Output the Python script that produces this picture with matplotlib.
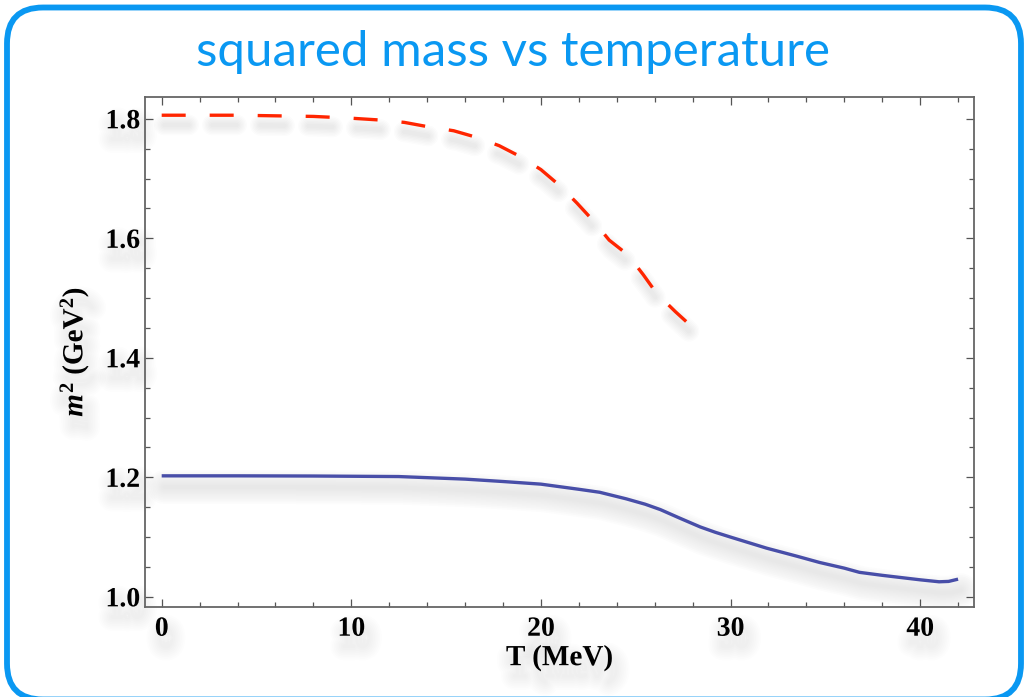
import matplotlib
matplotlib.use("Agg")
import matplotlib.pyplot as plt
import matplotlib.patheffects as pe
from matplotlib.patches import FancyBboxPatch
from matplotlib.ticker import MultipleLocator

# red dashed curve (T in MeV, m^2 in GeV^2)
t_red = [0, 2, 4, 6, 8, 10, 11.5, 12.8, 14, 15.4, 16.6, 17.8, 18.9, 20, 21,
         21.9, 22.8, 23.6, 24.6, 25.4, 26.1, 27.1, 28]
m2_red = [1.806, 1.806, 1.806, 1.805, 1.804, 1.801, 1.798, 1.794, 1.787, 1.780,
          1.769, 1.755, 1.737, 1.715, 1.688, 1.659, 1.628, 1.597, 1.572, 1.539,
          1.508, 1.477, 1.451]

# blue solid curve
t_blue = [0, 4, 8, 12.5, 16, 18, 20, 22, 23.1, 24.5, 25.5, 26.3, 27.3, 28.4,
          29.2, 30, 31.9, 33.5, 34.7, 36, 36.8, 38, 40, 41, 41.5, 42]
m2_blue = [1.2025, 1.2025, 1.2022, 1.2013, 1.197, 1.193, 1.1886, 1.180, 1.175,
           1.164, 1.155, 1.146, 1.132, 1.117, 1.108, 1.100, 1.0815, 1.068,
           1.0575, 1.048, 1.041, 1.036, 1.0285, 1.0252, 1.0258, 1.0296]

title = "squared mass vs temperature"
xlabel = "T (MeV)"
ylabel = r"$m^2$ (GeV$^2$)"

plt.rcParams["mathtext.fontset"] = "custom"
plt.rcParams["mathtext.rm"] = "Liberation Serif:bold"
plt.rcParams["mathtext.it"] = "Liberation Serif:italic:bold"


def soft_shadow(ox, oy, lw, n=6, step=2.2, alpha=0.035):
    # fake blurred drop shadow: stack of widening translucent strokes
    fx = [pe.SimpleLineShadow(offset=(ox, oy), shadow_color="0.3", alpha=alpha,
                              linewidth=lw + step * i, capstyle="round",
                              joinstyle="round") for i in range(n)]
    return fx + [pe.Normal()]


W, H = 1025, 697
fig = plt.figure(figsize=(W / 100, H / 100), dpi=100)

# slide frame
bg = fig.add_axes([0, 0, 1, 1])
bg.set_xlim(0, W)
bg.set_ylim(H, 0)
bg.axis("off")
frame = FancyBboxPatch((7, 7.5), 1014, 692, boxstyle="round,pad=0,rounding_size=36",
                       fc="white", ec="#0a98f2", lw=4.2)
bg.add_patch(frame)
bg.text(513, 66, title, ha="center", va="baseline", fontsize=35.5,
        family="Lato", color="#0a98f2")

ax = fig.add_axes([145 / W, 1 - 607 / H, (974 - 145) / W, (607 - 96.7) / H])
ax.set_xlim(-0.88, 42.84)
ax.set_ylim(0.983, 1.837)

ax.plot(t_blue, m2_blue, color="#484ea8", lw=2.4, solid_capstyle="butt",
        solid_joinstyle="round",
        path_effects=soft_shadow(2, -8, 3, n=10, step=2.4, alpha=0.013))
ax.plot(t_red, m2_red, color="#ff2500", lw=2.4, dashes=(7.2, 7.2),
        dash_capstyle="butt",
        path_effects=soft_shadow(2, -7, 3, n=7, step=2.0, alpha=0.014))

ax.xaxis.set_major_locator(MultipleLocator(10))
ax.xaxis.set_minor_locator(MultipleLocator(2))
ax.yaxis.set_major_locator(MultipleLocator(0.2))
ax.yaxis.set_minor_locator(MultipleLocator(0.05))
ax.yaxis.set_major_formatter(matplotlib.ticker.FormatStrFormatter("%.1f"))

for s in ax.spines.values():
    s.set_color("#666666")
    s.set_linewidth(1.3)
ax.tick_params(which="both", direction="in", top=True, right=True,
               color="#555555", width=0.9)
ax.tick_params(which="major", length=6)
ax.tick_params(which="minor", length=3.4)
ax.tick_params(axis="x", which="major", pad=7)
ax.tick_params(axis="y", which="major", pad=3.5)

lab_fx = soft_shadow(3, -8, 2, n=8, step=2.5, alpha=0.009)
for lab in ax.get_xticklabels() + ax.get_yticklabels():
    lab.set_family("Liberation Serif")
    lab.set_fontweight("bold")
    lab.set_fontsize(20)
    lab.set_path_effects(lab_fx)

ax.set_xlabel(xlabel, family="Liberation Serif", fontweight="bold", fontsize=21,
              labelpad=2, path_effects=lab_fx)
ax.set_ylabel(ylabel, family="Liberation Serif", fontweight="bold", fontsize=21,
              labelpad=10, path_effects=lab_fx)

fig.savefig("out.png", dpi=100)
